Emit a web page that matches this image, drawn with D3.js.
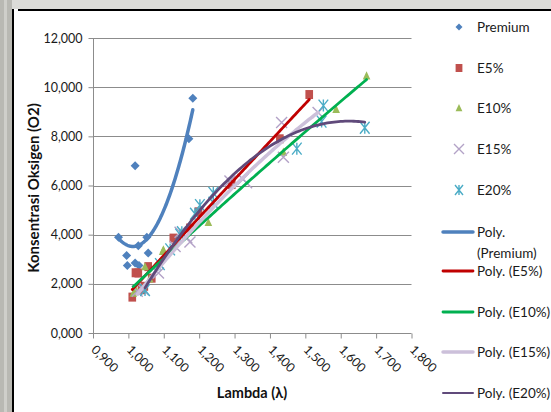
<!DOCTYPE html>
<html><head><meta charset="utf-8">
<script src="https://cdn.jsdelivr.net/npm/d3@7"></script>
<style>
html,body{margin:0;padding:0;background:#fff;}
svg{display:block;font-family:Lato,"Open Sans",sans-serif;}
</style></head>
<body><svg id="c" width="551" height="412"></svg>
<script>
// ---- data ----
const seriesNames = ["Premium", "E5%", "E10%", "E15%", "E20%"];
const premiumX = [0.972, 0.995, 0.997, 1.019, 1.019, 1.028, 1.030, 1.052, 1.056, 1.171, 1.182];
const premiumY = [3900, 3150, 2750, 2850, 6800, 3550, 2750, 3900, 3250, 7900, 9550];
const e5X = [1.011, 1.020, 1.028, 1.037, 1.045, 1.056, 1.066, 1.127, 1.174, 1.198, 1.292, 1.428, 1.511];
const e5Y = [1460, 2450, 2440, 1760, 1900, 2700, 2230, 3860, 4270, 4930, 6040, 7900, 9700];
const e10X = [1.014, 1.021, 1.047, 1.060, 1.097, 1.099, 1.226, 1.438, 1.587, 1.673];
const e10Y = [1620, 1750, 2700, 2200, 3320, 3390, 4500, 7360, 9100, 10460];
const e15X = [1.025, 1.042, 1.085, 1.132, 1.146, 1.165, 1.174, 1.287, 1.324, 1.334, 1.433, 1.438, 1.536];
const e15Y = [1700, 1760, 2440, 3520, 4100, 3870, 3700, 6180, 6250, 6110, 8560, 7150, 8970];
const e20X = [1.047, 1.089, 1.118, 1.146, 1.151, 1.188, 1.202, 1.240, 1.240, 1.476, 1.546, 1.551, 1.668];
const e20Y = [1750, 2800, 3400, 4000, 4100, 4850, 5200, 5700, 5300, 7500, 8600, 9250, 8350];
const xTicks = [0.9, 1.0, 1.1, 1.2, 1.3, 1.4, 1.5, 1.6, 1.7, 1.8];
const yTicks = [0, 2000, 4000, 6000, 8000, 10000, 12000];
const xTickLabels = ["0,900","1,000","1,100","1,200","1,300","1,400","1,500","1,600","1,700","1,800"];
const yTickLabels = ["0,000","2,000","4,000","6,000","8,000","10,000","12,000"];

const markerColors = ["#4F81BD", "#C0504D", "#9BBB59", "#B3A2C7", "#4BACC6"];
const trendColors = ["#4F81BD", "#C00000", "#00B050", "#CCC0DA", "#604A7B"];
const trendWidths = [3.5, 2.8, 2.8, 3.5, 2.8];
const legendTrendWidths = [3.5, 2.8, 2.8, 3.5, 2];

const series = [
  {x: premiumX, y: premiumY, m: "diamond"},
  {x: e5X, y: e5Y, m: "square"},
  {x: e10X, y: e10Y, m: "triangle"},
  {x: e15X, y: e15Y, m: "x"},
  {x: e20X, y: e20Y, m: "star"}
];

const svg = d3.select("#c");
// page background pieces
svg.append("rect").attr("x",0).attr("y",0).attr("width",551).attr("height",9).attr("fill","#dcdcd8");
svg.append("rect").attr("x",0).attr("y",0).attr("width",12).attr("height",412).attr("fill","#b9b9b3");
svg.append("rect").attr("x",4).attr("y",0).attr("width",3).attr("height",412).attr("fill","#cfcfca");
svg.append("line").attr("x1",13).attr("x2",13).attr("y1",9).attr("y2",412).attr("stroke","#000").attr("stroke-width",2);
svg.append("line").attr("x1",18).attr("x2",551).attr("y1",10).attr("y2",10).attr("stroke","#000").attr("stroke-width",2);

const x = d3.scaleLinear().domain([0.9, 1.8]).range([93, 411.5]);
const y = d3.scaleLinear().domain([0, 12000]).range([333, 38]);

// gridlines
svg.append("g").selectAll("line").data(yTicks.slice(1)).join("line")
  .attr("x1", 93).attr("x2", 411.5)
  .attr("y1", d => Math.round(y(d))+0.5).attr("y2", d => Math.round(y(d))+0.5)
  .attr("stroke", "#8c8c8c").attr("stroke-width", 1);

// axes
const yAxis = d3.axisLeft(y).tickValues(yTicks).tickSize(5).tickPadding(6)
  .tickFormat((d,i) => yTickLabels[i]);
const gy = svg.append("g").attr("transform","translate(93.5,0)").call(yAxis);
gy.selectAll("path,line").attr("stroke","#8c8c8c");
gy.select(".domain").attr("d","M-0,38V333.5");
gy.selectAll("text").attr("font-family","Lato").attr("font-size",12.5).attr("fill","#1a1a1a");

const xAxis = d3.axisBottom(x).tickValues(xTicks).tickSize(5).tickFormat((d,i)=>xTickLabels[i]);
const gx = svg.append("g").attr("transform","translate(0,333.5)").call(xAxis);
gx.selectAll("path,line").attr("stroke","#8c8c8c");
gx.select(".domain").attr("d","M93,0H411.5");
gx.selectAll("text").attr("font-family","Lato").attr("font-size",12.5).attr("fill","#1a1a1a")
  .attr("text-anchor","start").attr("dy",null).attr("y",0)
  .attr("transform","translate(-3,17) rotate(45)");

// axis titles
svg.append("text").attr("transform","translate(39,188) rotate(-90)").attr("text-anchor","middle")
  .attr("font-weight","bold").attr("font-size",15).attr("fill","#111").text("Konsentrasi Oksigen (O2)");
svg.append("text").attr("x",252).attr("y",398).attr("text-anchor","middle")
  .attr("font-weight","bold").attr("font-size",14.5).attr("fill","#111").text("Lambda (λ)");

// marker drawing
function marker(g, type, cx, cy, color, s) {
  if (type === "diamond") {
    g.append("path").attr("d", `M${cx},${cy-s}L${cx+s},${cy}L${cx},${cy+s}L${cx-s},${cy}Z`).attr("fill", color);
  } else if (type === "square") {
    g.append("rect").attr("x", cx-s*0.85).attr("y", cy-s).attr("width", s*1.7).attr("height", s*2).attr("fill", color);
  } else if (type === "triangle") {
    g.append("path").attr("d", `M${cx},${cy-s}L${cx+s*0.85},${cy+s*0.8}L${cx-s*0.85},${cy+s*0.8}Z`).attr("fill", color);
  } else if (type === "x") {
    g.append("path").attr("d", `M${cx-s},${cy-s}L${cx+s},${cy+s}M${cx-s},${cy+s}L${cx+s},${cy-s}`)
      .attr("stroke", color).attr("stroke-width", 1.4).attr("fill","none");
  } else if (type === "star") {
    g.append("path").attr("d", `M${cx-s*0.8},${cy-s}L${cx+s*0.8},${cy+s}M${cx-s*0.8},${cy+s}L${cx+s*0.8},${cy-s}M${cx},${cy-s}V${cy+s}`)
      .attr("stroke", color).attr("stroke-width", 1.4).attr("fill","none");
  }
}

const markerSizes = [4.5, 4.5, 4.5, 5.5, 6];
const gm = svg.append("g");
series.forEach((s, i) => {
  s.x.forEach((xv, j) => marker(gm, s.m, x(xv), y(s.y[j]), markerColors[i], markerSizes[i]));
});

// polynomial (order 2) least squares trendline
function polyFit(xs, ys) {
  const n = xs.length;
  let S = [0,0,0,0,0], T = [0,0,0];
  for (let k = 0; k < n; k++) {
    let p = 1;
    for (let e = 0; e <= 4; e++) { S[e] += p; if (e <= 2) T[e] += p*ys[k]; p *= xs[k]; }
  }
  const A = [[S[0],S[1],S[2],T[0]],[S[1],S[2],S[3],T[1]],[S[2],S[3],S[4],T[2]]];
  for (let c = 0; c < 3; c++) {
    let piv = c;
    for (let r = c+1; r < 3; r++) if (Math.abs(A[r][c]) > Math.abs(A[piv][c])) piv = r;
    [A[c], A[piv]] = [A[piv], A[c]];
    for (let r = 0; r < 3; r++) if (r !== c) {
      const f = A[r][c]/A[c][c];
      for (let k = c; k < 4; k++) A[r][k] -= f*A[c][k];
    }
  }
  return [A[0][3]/A[0][0], A[1][3]/A[1][1], A[2][3]/A[2][2]];
}
const line = d3.line().x(d => x(d[0])).y(d => y(d[1])).curve(d3.curveLinear);
const gt = svg.append("g");
series.forEach((s, i) => {
  const c = polyFit(s.x, s.y);
  const [x0, x1] = d3.extent(s.x);
  const pts = d3.range(0, 101).map(k => { const xv = x0 + (x1-x0)*k/100; return [xv, c[0]+c[1]*xv+c[2]*xv*xv]; });
  gt.append("path").attr("d", line(pts)).attr("fill","none")
    .attr("stroke", trendColors[i]).attr("stroke-width", trendWidths[i]).attr("stroke-linecap","round");
});

// legend
const lg = svg.append("g").attr("font-family","Lato").attr("font-size",13.5).attr("fill","#1a1a1a");
const legMarkY = [27, 68, 108, 149, 190];
const legMarkSizes = [3.5, 4, 4, 5, 5];
seriesNames.forEach((nm, i) => {
  marker(lg, series[i].m, 459, legMarkY[i], markerColors[i], legMarkSizes[i]);
  lg.append("text").attr("x", 477).attr("y", legMarkY[i]).attr("dy","0.35em").text(nm);
});
const legLineY = [232, 271, 312, 352, 393];
seriesNames.forEach((nm, i) => {
  lg.append("line").attr("x1",443).attr("x2",473).attr("y1",legLineY[i]).attr("y2",legLineY[i])
    .attr("stroke",trendColors[i]).attr("stroke-width",legendTrendWidths[i]).attr("stroke-linecap","round");
  if (i === 0) {
    lg.append("text").attr("x",477).attr("y",legLineY[i]).attr("dy","0.35em").text("Poly.");
    lg.append("text").attr("x",477).attr("y",253).attr("dy","0.35em").text("(" + nm + ")");
  } else {
    lg.append("text").attr("x",477).attr("y",legLineY[i]).attr("dy","0.35em").text("Poly. (" + nm + ")");
  }
});
</script></body></html>
